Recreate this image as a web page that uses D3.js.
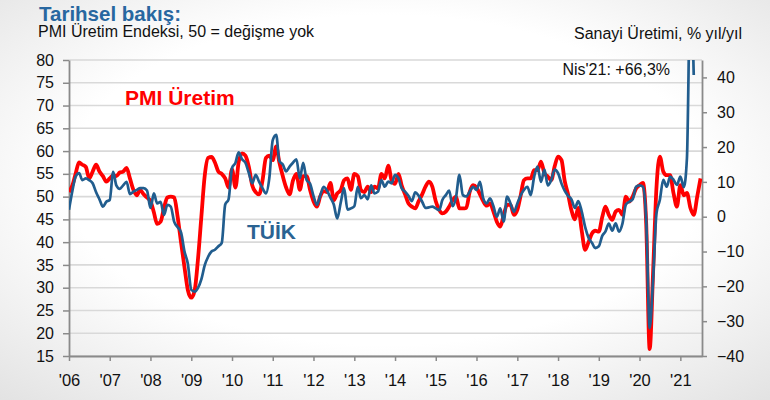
<!DOCTYPE html>
<html>
<head>
<meta charset="utf-8">
<script src="https://cdn.jsdelivr.net/npm/d3@7"></script>
<style>
body { margin: 0; background: #fff; }
svg { display: block; font-family: "Liberation Sans", Arial, sans-serif; }
</style>
</head>
<body>
<div id="chart"></div>
<script>
// monthly series, first value = Jan 2006

// PMI output index (left axis)
var pmi = [
  51.0, 52.5, 55.0, 57.5, 57.0, 56.5, 54.0, 55.5, 57.0, 55.5, 54.5, 53.3,  // 2006
  54.0, 54.7, 54.5, 55.3, 55.5, 56.3, 54.0, 51.5, 50.3, 51.5, 50.5, 49.8,  // 2007
  49.0, 46.5, 44.0, 44.5, 47.5, 49.8, 50.0, 49.8, 45.5, 40.0, 34.5, 29.5,  // 2008
  27.8, 29.5, 36.0, 45.5, 54.5, 58.5, 58.7, 57.5, 55.5, 55.0, 54.0, 52.0,  // 2009
  56.0, 52.0, 57.5, 59.5, 59.0, 56.5, 52.5, 51.0, 50.5, 53.5, 58.5, 59.0,  // 2010
  58.0, 61.0, 57.5, 54.5, 52.0, 50.5, 53.5, 55.0, 51.5, 54.5, 54.5, 51.5,  // 2011
  49.0, 47.8, 50.0, 51.2, 51.0, 53.0, 49.2, 50.7, 51.4, 53.6, 54.0, 51.5,  // 2012
  55.0, 54.5, 51.5, 51.0, 52.2, 51.0, 52.2, 51.8, 55.0, 54.0, 56.8, 53.6,  // 2013
  52.8, 55.0, 52.5, 50.5, 48.5, 47.8, 47.4, 49.0, 50.5, 52.2, 53.3, 52.2,  // 2014
  49.0, 47.1, 46.3, 46.7, 47.8, 49.2, 50.0, 47.4, 47.4, 47.5, 51.0, 52.5,  // 2015
  52.0, 50.5, 49.0, 48.0, 48.5, 46.7, 44.5, 43.4, 46.0, 48.2, 48.2, 46.0,  // 2016
  47.1, 50.4, 53.6, 54.0, 54.0, 55.8, 55.8, 57.7, 55.1, 54.4, 53.6, 56.6,  // 2017
  58.8, 58.0, 53.5, 50.5, 47.0, 45.0, 47.5, 42.5, 38.3, 40.0, 41.9, 42.5,  // 2018
  42.3, 45.5, 47.8, 46.0, 44.9, 46.7, 47.1, 46.0, 50.0, 48.9, 50.0, 51.8,  // 2019
  52.5, 53.0, 44.0, 16.5, 33.0, 52.0, 58.8, 55.5, 54.7, 54.7, 50.7, 47.8,  // 2020
  52.5, 50.3, 50.8, 47.5, 46.0, 50.0, 54.0                                 // 2021
];

// TUIK industrial production, % y/y (right axis)
var ip = [
  2.0, 7.5, 11.5, 12.5, 10.5, 11.0, 10.5, 9.6, 7.0, 5.0, 2.9, 4.3,        // 2006
  4.8, 12.9, 9.0, 8.0, 9.0, 10.0, 6.5, 7.2, 7.7, 8.2, 8.2, 7.5,            // 2007
  2.5, 6.7, 3.8, 4.3, 0.5, 3.4, 2.9, -1.5, -3.0, -4.5, -10.0, -13.5,       // 2008
  -21.0, -21.5, -20.5, -18.0, -14.0, -11.5, -10.0, -9.5, -8.5, -7.5, 3.5, 5.0, // 2009
  14.0, 15.5, 18.5, 16.5, 15.5, 12.5, 9.6, 12.0, 10.0, 8.2, 6.7, 11.0,     // 2010
  22.0, 23.5, 16.0, 15.0, 13.0, 14.4, 15.5, 16.5, 11.0, 15.5, 10.5, 9.5,   // 2011
  6.0, 3.4, 6.0, 8.6, 7.5, 5.5, 3.5, -0.5, 4.0, 8.2, 2.0, 2.4,             // 2012
  3.0, 8.6, 5.3, 6.2, 5.0, 9.0, 6.7, 7.2, 10.5, 8.6, 10.1, 9.6,            // 2013
  12.0, 11.0, 8.2, 7.2, 6.0, 4.5, 7.0, 6.0, 4.3, 2.5, 2.7, 2.9,            // 2014
  2.4, 1.9, 4.8, 6.2, 7.5, 3.0, 5.5, 12.0, 6.2, 5.8, 7.2, 8.6,             // 2015
  7.7, 10.0, 5.3, 3.8, 5.3, 3.0, 0.0, 2.4, -1.4, 5.8, 3.8, 1.4,            // 2016
  3.8, 6.2, 7.7, 8.6, 6.2, 11.5, 14.4, 10.0, 13.5, 9.0, 10.5, 13.5,        // 2017
  12.5, 9.5, 7.5, 6.0, 5.0, 2.5, 4.5, 1.5, -3.0, -6.0, -7.5, -9.0,         // 2018
  -8.5, -5.5, -4.3, -2.0, -4.0, -1.9, -4.3, -2.0, 3.5, 4.3, 5.0, 8.6,      // 2019
  9.0, 8.6, -1.0, -32.0, -18.5, 1.0, 4.8, 10.6, 8.6, 11.5, 10.6, 9.1,      // 2020
  11.5, 8.5, 16.8, 66.3, 40.7                                              // 2021
];

var years = [2006, 2007, 2008, 2009, 2010, 2011, 2012, 2013, 2014, 2015, 2016, 2017, 2018, 2019, 2020, 2021];
var yearLabels = ["'06", "'07", "'08", "'09", "'10", "'11", "'12", "'13", "'14", "'15", "'16", "'17", "'18", "'19", "'20", "'21"];
var leftTicks = [15, 20, 25, 30, 35, 40, 45, 50, 55, 60, 65, 70, 75, 80];
var rightTicks = [-40, -30, -20, -10, 0, 10, 20, 30, 40];

var w = 770, h = 400;
var pLeft = 69, pRight = 702, pTop = 60, pBottom = 356;

var svg = d3.select("#chart").append("svg")
  .attr("width", w)
  .attr("height", h);

// soft grey background like the slide
var defs = svg.append("defs");
var grad = defs.append("radialGradient").attr("id", "bg")
  .attr("cx", "50%").attr("cy", "45%").attr("r", "75%");
grad.append("stop").attr("offset", "55%").attr("stop-color", "#ffffff");
grad.append("stop").attr("offset", "100%").attr("stop-color", "#e2e2e2");
svg.append("rect").attr("width", w).attr("height", h).attr("fill", "url(#bg)");

defs.append("clipPath").attr("id", "plot")
  .append("rect").attr("x", pLeft).attr("y", pTop)
  .attr("width", pRight - pLeft).attr("height", pBottom - pTop);

var start = new Date(2006, 0, 1);
var monthDate = function(i) { return d3.timeMonth.offset(start, i); };

var x = d3.scaleTime()
  .domain([start, new Date(2021, 6, 14)])
  .range([pLeft, pRight]);
var yL = d3.scaleLinear().domain([15, 80]).range([pBottom, pTop]);
var yR = d3.scaleLinear().domain([-40, 45]).range([pBottom, pTop]);

// gridlines
svg.append("g").selectAll("line")
  .data(leftTicks)
  .enter().append("line")
  .attr("x1", pLeft).attr("x2", pRight)
  .attr("y1", function(d) { return yL(d); })
  .attr("y2", function(d) { return yL(d); })
  .attr("stroke", "#d9d9d9")
  .attr("stroke-width", 1.6);

// axes
var axisL = svg.append("g")
  .attr("transform", "translate(" + pLeft + ",0)")
  .call(d3.axisLeft(yL).tickValues(leftTicks).tickSize(6).tickSizeOuter(0).tickPadding(9));
var axisR = svg.append("g")
  .attr("transform", "translate(" + pRight + ",0)")
  .call(d3.axisRight(yR).tickValues(rightTicks).tickSize(5).tickSizeOuter(0).tickPadding(10));
var axisB = svg.append("g")
  .attr("transform", "translate(0," + pBottom + ")")
  .call(d3.axisBottom(x)
    .tickValues(years.map(function(y) { return new Date(y, 0, 1); }))
    .tickFormat(function(d, i) { return yearLabels[i]; })
    .tickSize(5).tickSizeOuter(0).tickPadding(13));

[axisL, axisR, axisB].forEach(function(a) {
  a.attr("font-family", null);
  a.select(".domain").attr("stroke", "#8a8a8a").attr("stroke-width", 1.8);
  a.selectAll(".tick line").attr("stroke", "#8a8a8a").attr("stroke-width", 1.5);
  a.selectAll("text").attr("fill", "#111").attr("font-size", "16px");
});
axisB.selectAll("text").attr("font-size", "16.5px");

// lines
var linePmi = d3.line()
  .x(function(d, i) { return x(monthDate(i)); })
  .y(function(d) { return yL(d); })
  .curve(d3.curveMonotoneX);
var lineIp = d3.line()
  .x(function(d, i) { return x(monthDate(i)); })
  .y(function(d) { return yR(d); })
  .curve(d3.curveMonotoneX);

var g = svg.append("g").attr("clip-path", "url(#plot)");
g.append("path").datum(pmi)
  .attr("d", linePmi)
  .attr("fill", "none")
  .attr("stroke", "#ff0000")
  .attr("stroke-width", 3.8)
  .attr("stroke-linejoin", "round");
g.append("path").datum(ip)
  .attr("d", lineIp)
  .attr("fill", "none")
  .attr("stroke", "#215d8e")
  .attr("stroke-width", 2.7)
  .attr("stroke-linejoin", "round");

// titles
svg.append("text").attr("x", 39).attr("y", 21)
  .attr("font-size", "20.5px").attr("font-weight", "bold").attr("fill", "#2867a0")
  .text("Tarihsel bakış:");
svg.append("text").attr("x", 38).attr("y", 37)
  .attr("font-size", "16px").attr("fill", "#111")
  .text("PMI Üretim Endeksi, 50 = değişme yok");
svg.append("text").attr("x", 742).attr("y", 39)
  .attr("text-anchor", "end")
  .attr("font-size", "16px").attr("fill", "#111")
  .text("Sanayi Üretimi, % yıl/yıl");
svg.append("text").attr("x", 670).attr("y", 75)
  .attr("text-anchor", "end")
  .attr("font-size", "16px").attr("fill", "#111")
  .text("Nis'21: +66,3%");

// series labels
svg.append("text").attr("x", 125).attr("y", 105)
  .attr("font-size", "21px").attr("font-weight", "bold").attr("fill", "#ff0000")
  .text("PMI Üretim");
svg.append("text").attr("x", 247).attr("y", 239)
  .attr("font-size", "21px").attr("font-weight", "bold").attr("fill", "#2a6392")
  .text("TÜİK");
</script>
</body>
</html>
